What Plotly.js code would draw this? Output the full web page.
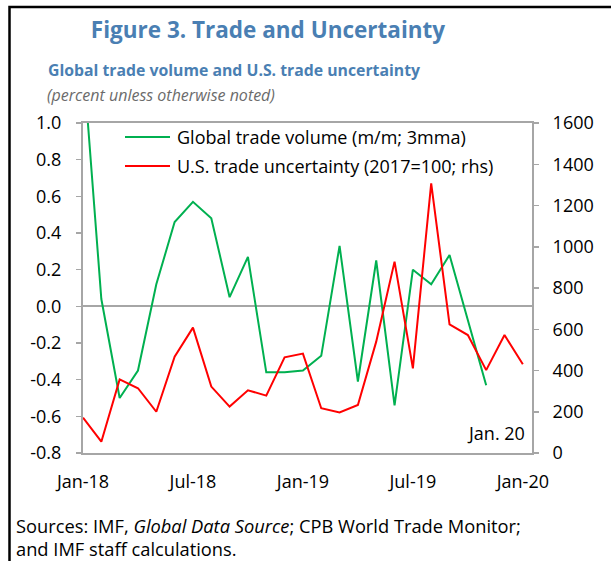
<!DOCTYPE html>
<html>
<head>
<meta charset="utf-8">
<script src="https://cdn.plot.ly/plotly-3.0.1.min.js"></script>
<style>html,body{margin:0;padding:0;background:#fff;}#chart{width:611px;height:561px;}</style>
</head>
<body>
<div id="chart"></div>
<script>
// ---- Data ----
const months = ["Jan-18","Feb-18","Mar-18","Apr-18","May-18","Jun-18","Jul-18","Aug-18","Sep-18","Oct-18","Nov-18","Dec-18",
                "Jan-19","Feb-19","Mar-19","Apr-19","May-19","Jun-19","Jul-19","Aug-19","Sep-19","Oct-19","Nov-19","Dec-19","Jan-20"];
const globalTradeVolume = [1.35, 0.04, -0.50, -0.35, 0.12, 0.46, 0.57, 0.48, 0.05, 0.27, -0.36, -0.36,
                           -0.35, -0.27, 0.33, -0.41, 0.25, -0.54, 0.20, 0.12, 0.28, -0.08, -0.43, null, null];
const usTradeUncertainty = [171, 55, 357, 314, 200, 467, 608, 322, 225, 304, 278, 464,
                            482, 217, 197, 233, 540, 928, 410, 1307, 624, 572, 402, 572, 430];
const xTickLabels = ["Jan-18","Jul-18","Jan-19","Jul-19","Jan-20"];
const leftTicks = [-0.8,-0.6,-0.4,-0.2,0.0,0.2,0.4,0.6,0.8,1.0];
const rightTicks = [0,200,400,600,800,1000,1200,1400,1600];
const seriesNames = ["Global trade volume (m/m; 3mma)", "U.S. trade uncertainty (2017=100; rhs)"];
const seriesColors = ["#00b050", "#ff0000"];
const sourceLines = ["Sources: IMF, <i>Global Data Source</i>; CPB World Trade Monitor;", "and IMF staff calculations."];

// ---- Geometry helpers (plot area in pixels) ----
const W = 611, H = 561;
const PL = 83, PR = 532, PT = 123, PB = 453;
const xp = px => (px - PL) / (PR - PL);
const yp = py => (PB - py) / (PB - PT);

const FONT = "Open Sans, Noto Sans, sans-serif";
const BLUE = "#4a7fb3";
const GRAY = "#a6a6a6";
const TICKFONT = {family: FONT, size: 18, color: "#000"};

const traces = [
  {x: months, y: globalTradeVolume, name: seriesNames[0], type: "scatter", mode: "lines",
   line: {color: seriesColors[0], width: 2}, yaxis: "y", connectgaps: false},
  {x: months, y: usTradeUncertainty, name: seriesNames[1], type: "scatter", mode: "lines",
   line: {color: seriesColors[1], width: 2}, yaxis: "y2"}
];

// manual legend (longer sample lines than Plotly's built-in legend)
const legendRows = [137, 166];
const legendShapes = seriesNames.map((n, i) => ({
  type: "line", xref: "paper", yref: "paper", x0: xp(125), x1: xp(170), y0: yp(legendRows[i]), y1: yp(legendRows[i]),
  line: {color: seriesColors[i], width: 2}
}));
const legendTexts = seriesNames.map((n, i) => ({
  text: n, xref: "paper", yref: "paper", x: xp(175), y: yp(legendRows[i]), xanchor: "left", yanchor: "middle",
  showarrow: false, font: {family: FONT, size: 18, color: "#000"}
}));

const sourceRows = [525, 548];
const sourceTexts = sourceLines.map((t, i) => ({
  text: t, xref: "paper", yref: "paper", x: xp(15), y: yp(sourceRows[i]), xanchor: "left", yanchor: "middle",
  align: "left", showarrow: false, borderpad: 0, font: {family: FONT, size: 18.3, color: "#000"}
}));

const layout = {
  width: W, height: H,
  margin: {l: PL, r: W - PR, t: PT, b: H - PB, pad: 0},
  paper_bgcolor: "#fff", plot_bgcolor: "#fff",
  font: {family: FONT, size: 18, color: "#000"},
  showlegend: false,
  title: {text: "Figure 3. Trade and Uncertainty", xref: "container", yref: "container",
          x: 268 / W, y: 1 - 30 / H, xanchor: "center", yanchor: "middle",
          font: {family: FONT, size: 22.5, color: BLUE, weight: "bold"}},
  xaxis: {type: "category", range: [0, 24.5], tickmode: "array", tickvals: xTickLabels, ticktext: xTickLabels,
          showline: true, linecolor: GRAY, linewidth: 2, mirror: true, ticks: "", showgrid: false,
          zeroline: false, ticklabelstandoff: 11, tickfont: TICKFONT},
  yaxis: {range: [-0.8, 1.0], tickmode: "array", tickvals: leftTicks, ticktext: leftTicks.map(v => v.toFixed(1)),
          showline: true, linecolor: GRAY, linewidth: 2, ticks: "outside", ticklen: 5, tickcolor: GRAY, tickwidth: 1.5,
          showgrid: false, zeroline: true, zerolinecolor: GRAY, zerolinewidth: 2,
          ticklabelstandoff: 11, tickfont: TICKFONT},
  yaxis2: {range: [0, 1600], overlaying: "y", side: "right", tickmode: "array", tickvals: rightTicks,
           showline: true, linecolor: GRAY, linewidth: 2, ticks: "outside", ticklen: 5, tickcolor: GRAY, tickwidth: 1.5,
           showgrid: false, zeroline: false, ticklabelstandoff: 10, tickfont: TICKFONT},
  shapes: [
    {type: "rect", xref: "paper", yref: "paper", x0: xp(9.5), x1: xp(640), y0: yp(600), y1: yp(7),
     line: {color: "#000", width: 2.5}, fillcolor: "rgba(0,0,0,0)", layer: "above"}
  ].concat(legendShapes),
  annotations: [
    {text: "<b>Global trade volume and U.S. trade uncertainty</b>", xref: "paper", yref: "paper",
     x: xp(46), y: yp(70), xanchor: "left", yanchor: "middle", showarrow: false,
     font: {family: FONT, size: 15.8, color: BLUE}},
    {text: "<i>(percent unless otherwise noted)</i>", xref: "paper", yref: "paper",
     x: xp(45), y: yp(95), xanchor: "left", yanchor: "middle", showarrow: false,
     font: {family: FONT, size: 16, color: "#6b6b6b"}},
    {text: "Jan. 20", xref: "paper", yref: "paper", x: xp(527), y: yp(433), xanchor: "right", yanchor: "middle",
     showarrow: false, font: {family: FONT, size: 18, color: "#000"}}
  ].concat(legendTexts, sourceTexts)
};

Plotly.newPlot("chart", traces, layout, {displayModeBar: false, staticPlot: true});
</script>
</body>
</html>
